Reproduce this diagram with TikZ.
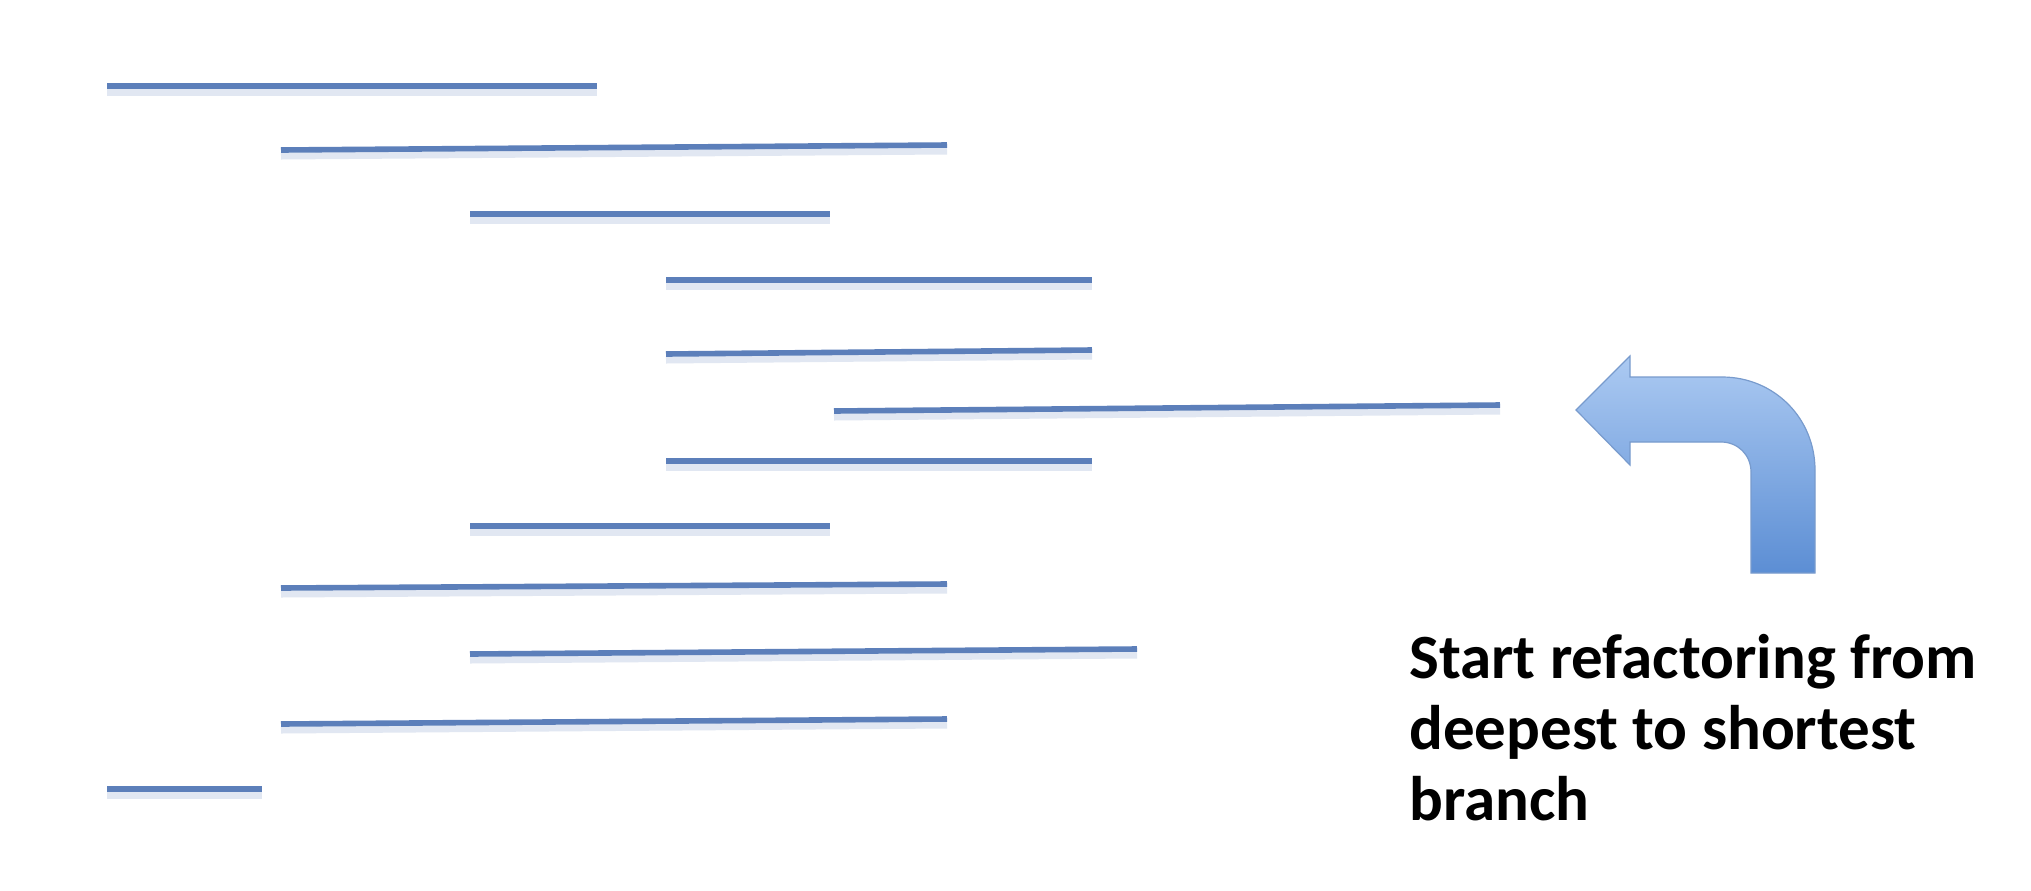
\documentclass[tikz,border=0pt]{standalone}
\usepackage{fontspec}
\setmainfont{Carlito}
\definecolor{lineblue}{RGB}{92,127,186}
\definecolor{shadowblue}{RGB}{205,216,234}
\definecolor{arrowtop}{RGB}{172,202,242}
\definecolor{arrowbot}{RGB}{92,142,212}
\definecolor{arrowedge}{RGB}{120,155,205}
\begin{document}
\begin{tikzpicture}[x=0.5pt,y=-0.5pt,
  branchline/.style={draw=lineblue,line width=2.8pt},
  branchshadow/.style={draw=shadowblue,line width=3.5pt,opacity=0.6},
  label/.style={font=\bfseries\fontsize{31.5}{35.5}\selectfont,align=left,inner sep=0pt,anchor=north west}]
\useasboundingbox[fill=white] (0,0) rectangle (2031,890);
% branches: start x, start y, end x, end y
\foreach \xa/\ya/\xb/\yb in {
  107/86/597/86,
  281/150/947/145,
  470/214/830/214,
  666/280/1092/280,
  666/354/1092/350,
  834/411/1500/405,
  666/461/1092/461,
  470/526/830/526,
  281/588/947/584,
  470/654/1137/649,
  281/724/947/719,
  107/789/262/789}{
  \draw[branchshadow] (\xa,\ya+6) -- (\xb,\yb+6);
  \draw[branchline] (\xa,\ya) -- (\xb,\yb);
}
% bent arrow
\path[top color=arrowtop,bottom color=arrowbot,draw=arrowedge,line width=0.6pt,line join=miter]
  (1576,410) -- (1630,356) -- (1630,377) -- (1722,377)
  .. controls (1774,377) and (1815,418) .. (1815,470)
  -- (1815,573) -- (1751,573) -- (1751,472)
  .. controls (1751,455) and (1738,442) .. (1721,442)
  -- (1630,442) -- (1630,465) -- cycle;
\node[label] (txt) at (1409,634) {Start refactoring from\\deepest to shortest\\branch};
\end{tikzpicture}
\end{document}
